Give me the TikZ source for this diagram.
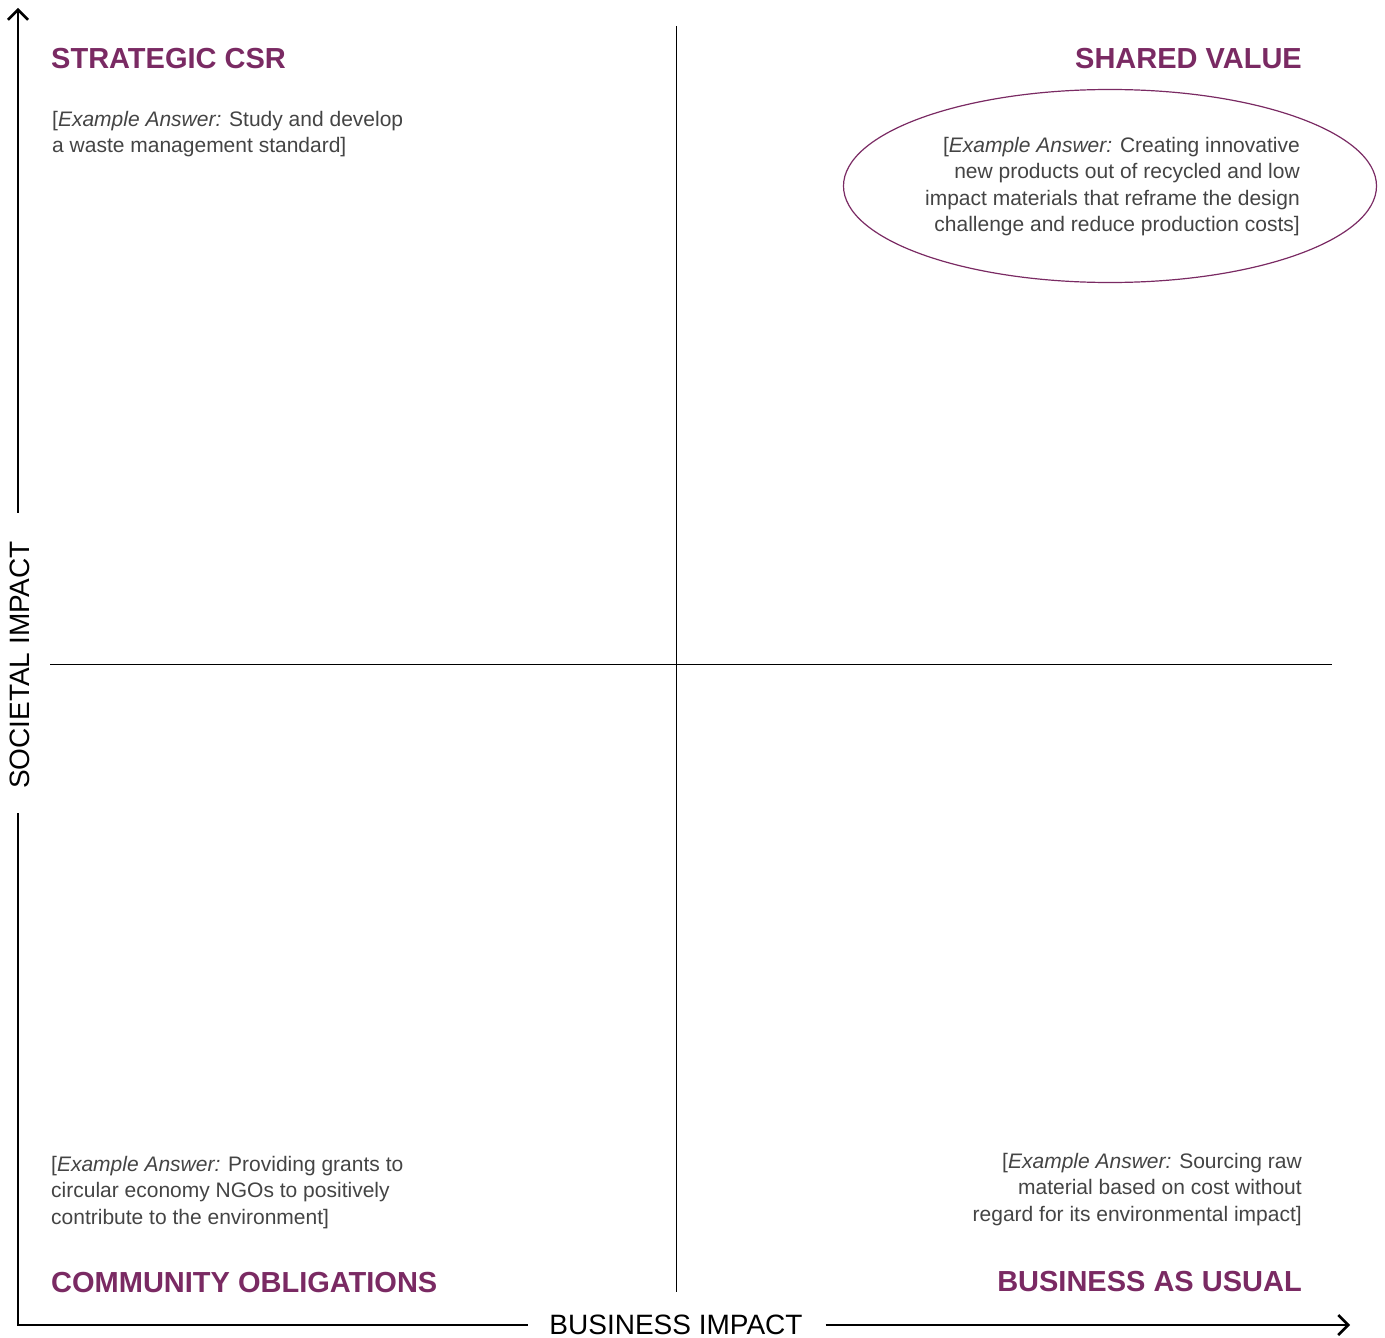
\documentclass[tikz,border=0pt]{standalone}
\usepackage{fontspec}
\setmainfont{Liberation Sans}
\usetikzlibrary{arrows.meta,shapes.geometric,calc}
\definecolor{plum}{HTML}{7A2A63}
\definecolor{bodygray}{HTML}{444444}
\begin{document}
\begin{tikzpicture}[x=1pt,y=-1pt,
  title/.style={font=\fontsize{29}{30}\selectfont\bfseries, text=plum, inner sep=0pt},
  body/.style={font=\fontsize{21}{26.5}\selectfont, text=bodygray, inner sep=0pt},
  axislabel/.style={font=\fontsize{28}{30}\selectfont, text=black, inner sep=0pt},
  axisline/.style={line width=2.5pt},
  quadline/.style={line width=1pt},
  axistip/.style={-{Straight Barb[length=10pt,width=20pt]}}]
\path[use as bounding box] (0,0) rectangle (1385,1338);
% axes
\coordinate (O) at (18,1325);
\coordinate (ytip) at (18,8);
\coordinate (xtip) at (1350,1325);
\node[axislabel, rotate=90] (ylab) at (20,665) {SOCIETAL IMPACT};
\node[axislabel, anchor=base] (xlab) at (676,1334) {BUSINESS IMPACT};
\draw[axisline, line cap=rect] (O) -- ($(O |- ylab.west)+(0,25)$);
\draw[axisline, axistip] ($(O |- ylab.east)+(0,-28)$) -- (ytip);
\draw[axisline, line cap=rect] (O) -- ($(O -| xlab.west)+(-23,0)$);
\draw[axisline, axistip] ($(O -| xlab.east)+(23,0)$) -- (xtip);
% quadrant lines
\coordinate (qtop) at (676,26);
\coordinate (qbot) at (676,1292);
\coordinate (qleft) at (50,664);
\coordinate (qright) at (1332,664);
\draw[quadline] (qtop) -- (qbot);
\draw[quadline] (qleft) -- (qright);
% titles
\node[title, anchor=base west] (tl) at (51,69) {STRATEGIC CSR};
\node[title, anchor=base east] (tr) at (1302,69) {SHARED VALUE};
\node[title, anchor=base west] (bl) at (51,1292) {COMMUNITY OBLIGATIONS};
\node[title, anchor=base east] (br) at (1302,1291) {BUSINESS AS USUAL};
% ellipse
\node[draw=plum, line width=1.2pt, ellipse, minimum width=533pt, minimum height=193pt] (ell) at (1110,186) {};
% bodies
\node[body, anchor=base west, align=left] (tlb) at (52,152.5)
  {[\textit{Example Answer:} Study and develop\\a waste management standard]};
\node[body, anchor=base east, align=right] (trb) at (1300,231.5)
  {[\textit{Example Answer:} Creating innovative\\new products out of recycled and low\\impact materials that reframe the design\\challenge and reduce production costs]};
\node[body, anchor=base west, align=left] (blb) at (51,1224)
  {[\textit{Example Answer:} Providing grants to\\circular economy NGOs to positively\\contribute to the environment]};
\node[body, anchor=base east, align=right] (brb) at (1302,1221)
  {[\textit{Example Answer:} Sourcing raw\\material based on cost without\\regard for its environmental impact]};
\end{tikzpicture}
\end{document}
